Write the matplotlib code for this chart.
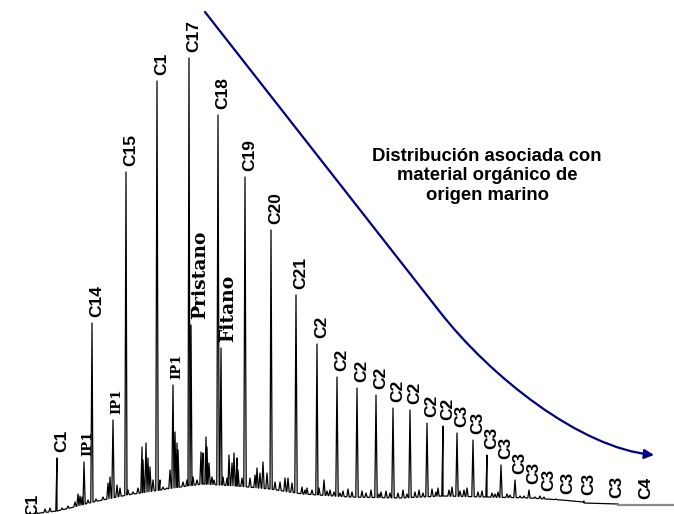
import numpy as np
import matplotlib.pyplot as plt
from matplotlib.path import Path
from matplotlib.patches import FancyArrowPatch

# deriva de la linea base: tiempo de retencion (min) y senal
base_rt = [2.2, 4.0, 5.7, 7.0, 9.3, 12.7, 16.0, 18.0, 20.3, 23.7, 27.0, 30.3,
           35.0, 40.0, 44.3, 48.7, 53.0, 54.5, 56.2, 58.3, 58.4, 61.8]
base_sig = [-2, 1, 3, 6, 12, 19, 24, 27, 30, 28, 25, 20,
            17, 16, 18, 17, 16, 15, 14, 12, 11, 10]

# picos identificados (n-alcanos e isoprenoides)
peak_rt = [2.8, 5.7, 8.4, 9.2, 11.3, 12.6, 15.7, 17.3, 18.9, 19.1, 21.8, 22.1,
           24.5, 27.1, 29.6, 31.7, 33.7, 35.7, 37.6, 39.3, 41.0, 42.7, 44.3,
           45.7, 47.3, 48.7, 50.1, 51.5, 52.9, 54.4, 56.3, 58.4, 61.2, 64.1]
peak_sig = [-8, 56, 52, 191, 94, 342, 433, 129, 456, 189, 399, 166,
            337, 284, 219, 170, 137, 126, 119, 106, 104, 91, 88,
            81, 74, 59, 49, 34, 24, 17, 14, 13, 10, 9]
peak_lbl = ['C1', 'C1', 'IP1', 'C14', 'IP1', 'C15', 'C1', 'IP1', 'C17', 'Pristano',
            'C18', 'Fitano', 'C19', 'C20', 'C21', 'C2', 'C2', 'C2', 'C2', 'C2',
            'C2', 'C2', 'C2', 'C3', 'C3', 'C3', 'C3', 'C3', 'C3', 'C3', 'C3',
            'C3', 'C3', 'C4']

# picos pequenos sin resolver
minor_rt = [3.0, 3.6, 4.5, 5.0, 6.2, 6.8, 7.5, 7.8, 8.0, 8.2, 8.8, 9.6, 10.3,
            10.8, 11.0, 11.7, 12.0, 12.8, 13.3, 13.8, 14.2, 14.3, 14.6, 14.8,
            15.0, 15.3, 16.0, 16.3, 16.7, 17.0, 17.5, 17.7, 17.8, 18.3, 18.7,
            19.3, 19.7, 20.1, 20.3, 20.6, 20.7, 20.9, 21.2, 21.4, 22.3, 22.7,
            22.9, 23.2, 23.4, 23.7, 23.8, 24.2, 25.0, 25.5, 25.7, 26.0, 26.3,
            26.7, 27.5, 28.0, 28.5, 28.8, 29.2, 30.2, 30.5, 30.7, 31.2, 31.9,
            32.4, 32.7, 33.0, 33.4, 34.0, 34.3, 34.8, 35.2, 36.2, 36.6, 37.1,
            37.9, 38.1, 38.6, 39.0, 39.8, 40.3, 40.7, 41.5, 41.9, 42.3, 43.2,
            43.6, 43.8, 44.9, 45.2, 46.0, 46.4, 46.7, 47.8, 48.2, 49.2, 49.5,
            49.8, 50.7, 51.0, 52.0, 52.4, 53.5, 54.0, 54.9, 55.6, 57.0, 57.6]
minor_sig = [2, 3, 5, 6, 6, 8, 12, 20, 18, 17, 14, 15, 17,
             31, 37, 29, 26, 24, 22, 26, 67, 54, 71, 56,
             47, 34, 34, 27, 26, 44, 82, 71, 64, 32, 34,
             37, 34, 62, 61, 77, 67, 51, 37, 34, 37, 36,
             59, 51, 61, 56, 44, 36, 36, 39, 46, 41, 52,
             41, 32, 32, 36, 36, 31, 27, 24, 26, 24, 26,
             34, 23, 24, 22, 21, 23, 25, 22, 23, 21, 24,
             20, 22, 23, 21, 21, 24, 20, 22, 24, 21, 25,
             22, 26, 24, 27, 23, 24, 26, 22, 23, 21, 20,
             22, 20, 19, 18, 18, 17, 18, 15, 15, 13, 12]

SERIF = ('IP1', 'Pristano', 'Fitano')


def build_trace(half_width=0.12):
    # cada pico es un triangulo estrecho apoyado sobre la linea base
    rt = np.array(peak_rt + minor_rt, dtype=float)
    sig = np.array(peak_sig + minor_sig, dtype=float)
    end = base_rt[-1]
    keep = (rt < end) & (sig > np.interp(rt, base_rt, base_sig))
    rt, sig = rt[keep], sig[keep]
    order = np.argsort(rt)
    rt, sig = rt[order], sig[order]

    xs, ys = [], []
    for i in range(len(rt)):
        left = rt[i] - half_width
        right = rt[i] + half_width
        if i > 0:
            left = max(left, (rt[i - 1] + rt[i]) / 2)
        if i < len(rt) - 1:
            right = min(right, (rt[i] + rt[i + 1]) / 2)
        xs += [left, rt[i], right]
        ys += [np.interp(left, base_rt, base_sig), sig[i],
               np.interp(right, base_rt, base_sig)]
    for bx, by in zip(base_rt, base_sig):
        xs.append(bx)
        ys.append(by)
    xs = np.array(xs)
    ys = np.array(ys)
    idx = np.argsort(xs, kind='stable')
    return xs[idx], ys[idx]


def draw(ax):
    xs, ys = build_trace()
    ax.plot(xs, ys, color='black', lw=0.9)
    # detector apagado al final de la corrida
    ax.plot([base_rt[-1], 67.4], [base_sig[-1] - 1, base_sig[-1] - 1],
            color='#8a8a8a', lw=1.6)

    for x, y, t in zip(peak_rt, peak_sig, peak_lbl):
        if t in SERIF:
            size = 13.5 if t != 'IP1' else 9.5
            dx = {'IP1': 0.4, 'Pristano': 0.95, 'Fitano': 0.7}[t]
            ax.text(x + dx, y + 6, t, rotation=90, ha='center', va='bottom',
                    fontsize=size, fontweight='bold', family='DejaVu Serif')
        else:
            ax.text(x + 0.45, y + 6, t, rotation=90, ha='center', va='bottom',
                    fontsize=12.5, fontweight='bold', family='Liberation Sans')

    # tendencia de las alturas de los n-alcanos: recta y luego curva
    verts = [(20.5, 502), (44.0, 202), (49.0, 138), (58.0, 66), (65.4, 59)]
    codes = [Path.MOVETO, Path.LINETO, Path.CURVE4, Path.CURVE4, Path.CURVE4]
    arrow = FancyArrowPatch(path=Path(verts, codes), arrowstyle='-|>',
                            mutation_scale=14, color='#000080', lw=1.6)
    ax.add_patch(arrow)

    ax.text(48.7, 338, 'Distribución asociada con\nmaterial orgánico de\norigen marino',
            ha='center', va='center', fontsize=13.3, fontweight='bold',
            family='Liberation Sans', linespacing=1.2)


if __name__ == '__main__':
    fig = plt.figure(figsize=(6.74, 5.14), dpi=100)
    ax = fig.add_axes([0, 0, 1, 1])
    ax.set_xlim(0, 67.4)
    ax.set_ylim(0, 514)
    ax.axis('off')
    draw(ax)
    fig.savefig('out.png', dpi=100)
